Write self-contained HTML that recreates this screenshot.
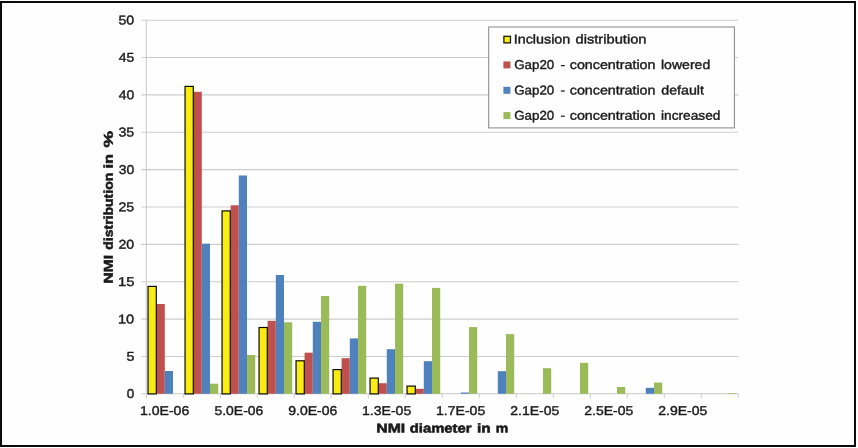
<!DOCTYPE html>
<html><head><meta charset="utf-8"><title>NMI distribution</title>
<style>html,body{margin:0;padding:0;background:#fff;}svg{display:block;will-change:transform;}text{font-family:"Liberation Sans",sans-serif;fill:#1a1a1a;stroke:#1a1a1a;stroke-width:0.4px;}text.b{font-weight:bold;stroke-width:0.55px;}</style></head><body>
<svg width="858" height="448" viewBox="0 0 858 448">
<rect x="0" y="0" width="858" height="448" fill="#fefefe"/>
<rect x="1" y="2" width="854" height="444" fill="none" stroke="#0d0b0c" stroke-width="2"/>
<line x1="141.3" y1="356.44" x2="738.3" y2="356.44" stroke="#cdcdcd" stroke-width="1.1"/>
<line x1="141.3" y1="319.08" x2="738.3" y2="319.08" stroke="#cdcdcd" stroke-width="1.1"/>
<line x1="141.3" y1="281.72" x2="738.3" y2="281.72" stroke="#cdcdcd" stroke-width="1.1"/>
<line x1="141.3" y1="244.36" x2="738.3" y2="244.36" stroke="#cdcdcd" stroke-width="1.1"/>
<line x1="141.3" y1="207.00" x2="738.3" y2="207.00" stroke="#cdcdcd" stroke-width="1.1"/>
<line x1="141.3" y1="169.64" x2="738.3" y2="169.64" stroke="#cdcdcd" stroke-width="1.1"/>
<line x1="141.3" y1="132.28" x2="738.3" y2="132.28" stroke="#cdcdcd" stroke-width="1.1"/>
<line x1="141.3" y1="94.92" x2="738.3" y2="94.92" stroke="#cdcdcd" stroke-width="1.1"/>
<line x1="141.3" y1="57.56" x2="738.3" y2="57.56" stroke="#cdcdcd" stroke-width="1.1"/>
<line x1="141.3" y1="20.20" x2="738.3" y2="20.20" stroke="#cdcdcd" stroke-width="1.1"/>
<line x1="146.3" y1="20.20" x2="146.3" y2="398.30" stroke="#c8c8c8" stroke-width="1.0"/>
<line x1="141.3" y1="393.80" x2="738.3" y2="393.80" stroke="#c8c8c8" stroke-width="1.1"/>
<line x1="183.3" y1="393.80" x2="183.3" y2="398.30" stroke="#c8c8c8" stroke-width="0.9"/>
<line x1="220.3" y1="393.80" x2="220.3" y2="398.30" stroke="#c8c8c8" stroke-width="0.9"/>
<line x1="257.3" y1="393.80" x2="257.3" y2="398.30" stroke="#c8c8c8" stroke-width="0.9"/>
<line x1="294.3" y1="393.80" x2="294.3" y2="398.30" stroke="#c8c8c8" stroke-width="0.9"/>
<line x1="331.3" y1="393.80" x2="331.3" y2="398.30" stroke="#c8c8c8" stroke-width="0.9"/>
<line x1="368.3" y1="393.80" x2="368.3" y2="398.30" stroke="#c8c8c8" stroke-width="0.9"/>
<line x1="405.3" y1="393.80" x2="405.3" y2="398.30" stroke="#c8c8c8" stroke-width="0.9"/>
<line x1="442.3" y1="393.80" x2="442.3" y2="398.30" stroke="#c8c8c8" stroke-width="0.9"/>
<line x1="479.3" y1="393.80" x2="479.3" y2="398.30" stroke="#c8c8c8" stroke-width="0.9"/>
<line x1="516.3" y1="393.80" x2="516.3" y2="398.30" stroke="#c8c8c8" stroke-width="0.9"/>
<line x1="553.3" y1="393.80" x2="553.3" y2="398.30" stroke="#c8c8c8" stroke-width="0.9"/>
<line x1="590.3" y1="393.80" x2="590.3" y2="398.30" stroke="#c8c8c8" stroke-width="0.9"/>
<line x1="627.3" y1="393.80" x2="627.3" y2="398.30" stroke="#c8c8c8" stroke-width="0.9"/>
<line x1="664.3" y1="393.80" x2="664.3" y2="398.30" stroke="#c8c8c8" stroke-width="0.9"/>
<line x1="701.3" y1="393.80" x2="701.3" y2="398.30" stroke="#c8c8c8" stroke-width="0.9"/>
<line x1="738.3" y1="393.80" x2="738.3" y2="398.30" stroke="#c8c8c8" stroke-width="0.9"/>
<rect x="156.60" y="304.00" width="8.20" height="89.80" fill="#C0504D"/>
<rect x="193.60" y="91.80" width="8.20" height="302.00" fill="#C0504D"/>
<rect x="230.60" y="205.30" width="8.20" height="188.50" fill="#C0504D"/>
<rect x="267.60" y="320.80" width="8.20" height="73.00" fill="#C0504D"/>
<rect x="304.60" y="352.70" width="8.20" height="41.10" fill="#C0504D"/>
<rect x="341.60" y="358.20" width="8.20" height="35.60" fill="#C0504D"/>
<rect x="378.60" y="383.20" width="8.20" height="10.60" fill="#C0504D"/>
<rect x="415.60" y="388.80" width="8.20" height="5.00" fill="#C0504D"/>
<rect x="164.80" y="371.00" width="8.20" height="22.80" fill="#4F81BD"/>
<rect x="201.80" y="243.70" width="8.20" height="150.10" fill="#4F81BD"/>
<rect x="238.80" y="175.50" width="8.20" height="218.30" fill="#4F81BD"/>
<rect x="275.80" y="275.00" width="8.20" height="118.80" fill="#4F81BD"/>
<rect x="312.80" y="321.80" width="8.20" height="72.00" fill="#4F81BD"/>
<rect x="349.80" y="338.40" width="8.20" height="55.40" fill="#4F81BD"/>
<rect x="386.80" y="349.20" width="8.20" height="44.60" fill="#4F81BD"/>
<rect x="423.80" y="361.20" width="8.20" height="32.60" fill="#4F81BD"/>
<rect x="460.80" y="392.50" width="8.20" height="1.30" fill="#4F81BD"/>
<rect x="497.80" y="371.20" width="8.20" height="22.60" fill="#4F81BD"/>
<rect x="645.80" y="387.80" width="8.20" height="6.00" fill="#4F81BD"/>
<rect x="210.00" y="383.70" width="8.20" height="10.10" fill="#9BBB59"/>
<rect x="247.00" y="355.00" width="8.20" height="38.80" fill="#9BBB59"/>
<rect x="284.00" y="322.30" width="8.20" height="71.50" fill="#9BBB59"/>
<rect x="321.00" y="296.00" width="8.20" height="97.80" fill="#9BBB59"/>
<rect x="358.00" y="285.80" width="8.20" height="108.00" fill="#9BBB59"/>
<rect x="395.00" y="283.70" width="8.20" height="110.10" fill="#9BBB59"/>
<rect x="432.00" y="287.90" width="8.20" height="105.90" fill="#9BBB59"/>
<rect x="469.00" y="327.10" width="8.20" height="66.70" fill="#9BBB59"/>
<rect x="506.00" y="334.10" width="8.20" height="59.70" fill="#9BBB59"/>
<rect x="543.00" y="368.20" width="8.20" height="25.60" fill="#9BBB59"/>
<rect x="580.00" y="362.90" width="8.20" height="30.90" fill="#9BBB59"/>
<rect x="617.00" y="387.00" width="8.20" height="6.80" fill="#9BBB59"/>
<rect x="654.00" y="382.50" width="8.20" height="11.30" fill="#9BBB59"/>
<rect x="728.00" y="393.20" width="8.20" height="0.60" fill="#9BBB59"/>
<rect x="148.05" y="286.40" width="8.25" height="107.50" fill="#F8EC14" stroke="#0a0a00" stroke-width="1.2"/>
<rect x="185.05" y="86.40" width="8.25" height="307.50" fill="#F8EC14" stroke="#0a0a00" stroke-width="1.2"/>
<rect x="222.05" y="210.90" width="8.25" height="183.00" fill="#F8EC14" stroke="#0a0a00" stroke-width="1.2"/>
<rect x="259.05" y="327.50" width="8.25" height="66.40" fill="#F8EC14" stroke="#0a0a00" stroke-width="1.2"/>
<rect x="296.05" y="360.80" width="8.25" height="33.10" fill="#F8EC14" stroke="#0a0a00" stroke-width="1.2"/>
<rect x="333.05" y="369.60" width="8.25" height="24.30" fill="#F8EC14" stroke="#0a0a00" stroke-width="1.2"/>
<rect x="370.05" y="378.10" width="8.25" height="15.80" fill="#F8EC14" stroke="#0a0a00" stroke-width="1.2"/>
<rect x="407.05" y="386.10" width="8.25" height="7.80" fill="#F8EC14" stroke="#0a0a00" stroke-width="1.2"/>
<rect x="488.7" y="27.0" width="245.7" height="100.9" fill="#fefefe" stroke="#8a8a8a" stroke-width="1.05"/>
<rect x="503.9" y="36.30" width="6.6" height="6.6" fill="#F8EC14" stroke="#0a0a00" stroke-width="1.2"/>
<rect x="503.4" y="61.40" width="7.0" height="7.0" fill="#C0504D"/>
<rect x="503.4" y="86.80" width="7.0" height="7.0" fill="#4F81BD"/>
<rect x="503.4" y="112.10" width="7.0" height="7.0" fill="#9BBB59"/>
<text transform="rotate(0.05 126.75 398.10)" x="126.75" y="398.10" font-size="12.8" textLength="7.50" lengthAdjust="spacingAndGlyphs">0</text>
<text transform="rotate(0.05 126.50 360.74)" x="126.50" y="360.74" font-size="12.8" textLength="8.00" lengthAdjust="spacingAndGlyphs">5</text>
<text transform="rotate(0.05 118.00 323.38)" x="118.00" y="323.38" font-size="12.8" textLength="16.25" lengthAdjust="spacingAndGlyphs">10</text>
<text transform="rotate(0.05 118.00 286.02)" x="118.00" y="286.02" font-size="12.8" textLength="16.50" lengthAdjust="spacingAndGlyphs">15</text>
<text transform="rotate(0.05 118.50 248.66)" x="118.50" y="248.66" font-size="12.8" textLength="15.75" lengthAdjust="spacingAndGlyphs">20</text>
<text transform="rotate(0.05 118.50 211.30)" x="118.50" y="211.30" font-size="12.8" textLength="15.75" lengthAdjust="spacingAndGlyphs">25</text>
<text transform="rotate(0.05 118.75 173.94)" x="118.75" y="173.94" font-size="12.8" textLength="15.50" lengthAdjust="spacingAndGlyphs">30</text>
<text transform="rotate(0.05 118.50 136.58)" x="118.50" y="136.58" font-size="12.8" textLength="15.75" lengthAdjust="spacingAndGlyphs">35</text>
<text transform="rotate(0.05 118.75 99.22)" x="118.75" y="99.22" font-size="12.8" textLength="15.50" lengthAdjust="spacingAndGlyphs">40</text>
<text transform="rotate(0.05 118.75 61.86)" x="118.75" y="61.86" font-size="12.8" textLength="15.50" lengthAdjust="spacingAndGlyphs">45</text>
<text transform="rotate(0.05 118.50 24.50)" x="118.50" y="24.50" font-size="12.8" textLength="15.75" lengthAdjust="spacingAndGlyphs">50</text>
<text transform="rotate(0.05 140.00 414.90)" x="140.00" y="414.90" font-size="12.8" textLength="49.25" lengthAdjust="spacingAndGlyphs">1.0E-06</text>
<text transform="rotate(0.05 214.50 414.90)" x="214.50" y="414.90" font-size="12.8" textLength="48.75" lengthAdjust="spacingAndGlyphs">5.0E-06</text>
<text transform="rotate(0.05 288.25 414.90)" x="288.25" y="414.90" font-size="12.8" textLength="49.00" lengthAdjust="spacingAndGlyphs">9.0E-06</text>
<text transform="rotate(0.05 362.00 414.90)" x="362.00" y="414.90" font-size="12.8" textLength="49.25" lengthAdjust="spacingAndGlyphs">1.3E-05</text>
<text transform="rotate(0.05 436.00 414.90)" x="436.00" y="414.90" font-size="12.8" textLength="49.25" lengthAdjust="spacingAndGlyphs">1.7E-05</text>
<text transform="rotate(0.05 510.25 414.90)" x="510.25" y="414.90" font-size="12.8" textLength="49.00" lengthAdjust="spacingAndGlyphs">2.1E-05</text>
<text transform="rotate(0.05 584.25 414.90)" x="584.25" y="414.90" font-size="12.8" textLength="49.00" lengthAdjust="spacingAndGlyphs">2.5E-05</text>
<text transform="rotate(0.05 658.25 414.90)" x="658.25" y="414.90" font-size="12.8" textLength="49.00" lengthAdjust="spacingAndGlyphs">2.9E-05</text>
<text class="b" transform="rotate(0.05 376.25 432.40)" x="376.25" y="432.40" font-size="12.8" textLength="29.00" lengthAdjust="spacingAndGlyphs">NMI</text>
<text class="b" transform="rotate(0.05 409.75 432.40)" x="409.75" y="432.40" font-size="12.8" textLength="61.75" lengthAdjust="spacingAndGlyphs">diameter</text>
<text class="b" transform="rotate(0.05 477.00 432.40)" x="477.00" y="432.40" font-size="12.8" textLength="13.75" lengthAdjust="spacingAndGlyphs">in</text>
<text class="b" transform="rotate(0.05 495.75 432.40)" x="495.75" y="432.40" font-size="12.8" textLength="12.50" lengthAdjust="spacingAndGlyphs">m</text>
<text class="b" transform="rotate(-89.95 112.80 283.50)" x="112.80" y="283.50" font-size="12.8" textLength="28.50" lengthAdjust="spacingAndGlyphs">NMI</text>
<text class="b" transform="rotate(-89.95 112.80 249.75)" x="112.80" y="249.75" font-size="12.8" textLength="77.00" lengthAdjust="spacingAndGlyphs">distribution</text>
<text class="b" transform="rotate(-89.95 112.80 168.50)" x="112.80" y="168.50" font-size="12.8" textLength="14.50" lengthAdjust="spacingAndGlyphs">in</text>
<text class="b" transform="rotate(-89.95 112.80 147.50)" x="112.80" y="147.50" font-size="12.8" textLength="16.50" lengthAdjust="spacingAndGlyphs">%</text>
<text transform="rotate(0.05 513.75 43.50)" x="513.75" y="43.50" font-size="12.8" textLength="56.50" lengthAdjust="spacingAndGlyphs">Inclusion</text>
<text transform="rotate(0.05 575.50 43.50)" x="575.50" y="43.50" font-size="12.8" textLength="71.00" lengthAdjust="spacingAndGlyphs">distribution</text>
<text transform="rotate(0.05 514.25 69.00)" x="514.25" y="69.00" font-size="12.8" textLength="40.00" lengthAdjust="spacingAndGlyphs">Gap20</text>
<text transform="rotate(0.05 560.50 69.00)" x="560.50" y="69.00" font-size="12.8" textLength="4.50" lengthAdjust="spacingAndGlyphs">-</text>
<text transform="rotate(0.05 569.75 69.00)" x="569.75" y="69.00" font-size="12.8" textLength="85.75" lengthAdjust="spacingAndGlyphs">concentration</text>
<text transform="rotate(0.05 661.00 69.00)" x="661.00" y="69.00" font-size="12.8" textLength="49.25" lengthAdjust="spacingAndGlyphs">lowered</text>
<text transform="rotate(0.05 514.25 94.40)" x="514.25" y="94.40" font-size="12.8" textLength="40.00" lengthAdjust="spacingAndGlyphs">Gap20</text>
<text transform="rotate(0.05 560.50 94.40)" x="560.50" y="94.40" font-size="12.8" textLength="4.50" lengthAdjust="spacingAndGlyphs">-</text>
<text transform="rotate(0.05 569.75 94.40)" x="569.75" y="94.40" font-size="12.8" textLength="85.75" lengthAdjust="spacingAndGlyphs">concentration</text>
<text transform="rotate(0.05 661.25 94.40)" x="661.25" y="94.40" font-size="12.8" textLength="42.75" lengthAdjust="spacingAndGlyphs">default</text>
<text transform="rotate(0.05 514.25 119.70)" x="514.25" y="119.70" font-size="12.8" textLength="40.00" lengthAdjust="spacingAndGlyphs">Gap20</text>
<text transform="rotate(0.05 560.50 119.70)" x="560.50" y="119.70" font-size="12.8" textLength="4.50" lengthAdjust="spacingAndGlyphs">-</text>
<text transform="rotate(0.05 569.75 119.70)" x="569.75" y="119.70" font-size="12.8" textLength="85.75" lengthAdjust="spacingAndGlyphs">concentration</text>
<text transform="rotate(0.05 661.00 119.70)" x="661.00" y="119.70" font-size="12.8" textLength="59.50" lengthAdjust="spacingAndGlyphs">increased</text>
</svg></body></html>
